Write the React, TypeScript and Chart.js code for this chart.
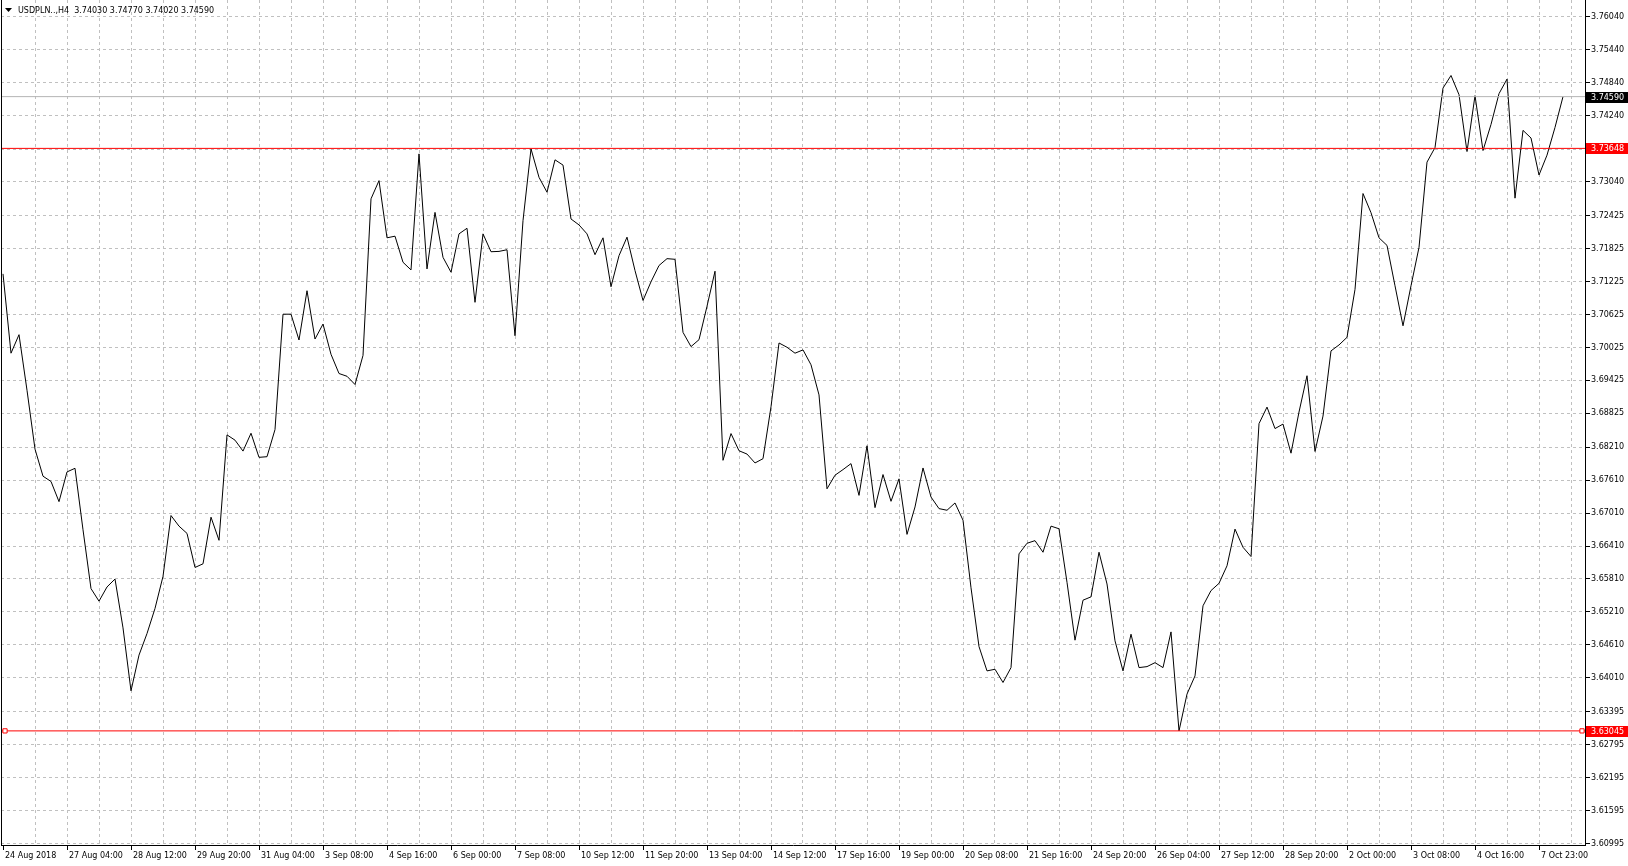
import React, { useEffect, useRef } from 'react';
import { Chart, registerables } from 'chart.js';

Chart.register(...registerables);

// ---- data (H4 closes, one per bar) ----
const closes: number[] = [
  3.71364, 3.69920, 3.70257, 3.69245, 3.68174, 3.67681, 3.67585, 3.67218, 3.67759, 3.67825,
  3.66706, 3.65635, 3.65406, 3.65665, 3.65809, 3.64920, 3.63775, 3.64425, 3.64817, 3.65274,
  3.65858, 3.66965, 3.66772, 3.66640, 3.66020, 3.66086, 3.66935, 3.66514, 3.68433, 3.68337,
  3.68138, 3.68463, 3.68024, 3.68036, 3.68530, 3.70630, 3.70630, 3.70160, 3.71057, 3.70178,
  3.70450, 3.69900, 3.69550, 3.69500, 3.69350, 3.69880, 3.72730, 3.73061, 3.72020, 3.72050,
  3.71575, 3.71436, 3.73548, 3.71454, 3.72483, 3.71665, 3.71394, 3.72092, 3.72194, 3.70846,
  3.72092, 3.71767, 3.71773, 3.71803, 3.70238, 3.72333, 3.73639, 3.73121, 3.72850, 3.73440,
  3.73344, 3.72363, 3.72255, 3.72092, 3.71713, 3.72020, 3.71130, 3.71695, 3.72032, 3.71424,
  3.70880, 3.71220, 3.71516, 3.71641, 3.71629, 3.70299, 3.70040, 3.70166, 3.70774, 3.71412,
  3.67970, 3.68457, 3.68144, 3.68084, 3.67922, 3.68000, 3.68945, 3.70106, 3.70028, 3.69920,
  3.69980, 3.69709, 3.69161, 3.67452, 3.67699, 3.67801, 3.67910, 3.67332, 3.68235, 3.67109,
  3.67711, 3.67224, 3.67633, 3.66622, 3.67121, 3.67831, 3.67302, 3.67091, 3.67061, 3.67194,
  3.66880, 3.65650, 3.64580, 3.64137, 3.64167, 3.63926, 3.64197, 3.66267, 3.66460, 3.66508,
  3.66297, 3.66772, 3.66724, 3.65749, 3.64696, 3.65424, 3.65485, 3.66297, 3.65719, 3.64684,
  3.64137, 3.64805, 3.64197, 3.64215, 3.64287, 3.64197, 3.64847, 3.63045, 3.63715, 3.64046,
  3.65322, 3.65599, 3.65731, 3.66050, 3.66718, 3.66387, 3.66219, 3.68638, 3.68939, 3.68548,
  3.68630, 3.68100, 3.68849, 3.69510, 3.68132, 3.68776, 3.69962, 3.70070, 3.70209, 3.71081,
  3.72826, 3.72477, 3.72020, 3.71882, 3.71147, 3.70419, 3.71147, 3.71846, 3.73398, 3.73663,
  3.74746, 3.74975, 3.74626, 3.73591, 3.74608, 3.73609, 3.74084, 3.74644, 3.74909, 3.72742,
  3.73976, 3.73837, 3.73163, 3.73525, 3.74030, 3.74590,
];

// one date label every 8 bars
const dateLabels: string[] = [
  '24 Aug 2018', '27 Aug 04:00', '28 Aug 12:00', '29 Aug 20:00', '31 Aug 04:00',
  '3 Sep 08:00', '4 Sep 16:00', '6 Sep 00:00', '7 Sep 08:00', '10 Sep 12:00',
  '11 Sep 20:00', '13 Sep 04:00', '14 Sep 12:00', '17 Sep 16:00', '19 Sep 00:00',
  '20 Sep 08:00', '21 Sep 16:00', '24 Sep 20:00', '26 Sep 04:00', '27 Sep 12:00',
  '28 Sep 20:00', '2 Oct 00:00', '3 Oct 08:00', '4 Oct 16:00', '7 Oct 23:00',
];

const priceTickLabels: string[] = [
  '3.76040', '3.75440', '3.74840', '3.74240', '3.73635', '3.73040', '3.72425', '3.71825',
  '3.71225', '3.70625', '3.70025', '3.69425', '3.68825', '3.68210', '3.67610', '3.67010',
  '3.66410', '3.65810', '3.65210', '3.64610', '3.64010', '3.63395', '3.62795', '3.62195',
  '3.61595', '3.60995',
];

const symbolTitle = 'USDPLN..,H4';
const lastBarOHLC: string[] = ['3.74030', '3.74770', '3.74020', '3.74590'];
const resistanceLevel = 3.73648;
const supportLevel = 3.63045;
const bidPrice = 3.7459;

const W = 1628;
const H = 866;
const FONT_FAMILY = "'DejaVu Sans', 'Liberation Sans', sans-serif";
const GRID = '#c0c0c0';

export default function App() {
  const ref = useRef<HTMLCanvasElement | null>(null);

  useEffect(() => {
    const canvas = ref.current;
    if (!canvas) return;

    const xMin = -0.25;
    const xMax = 197.75;
    const yMin = 3.60968;
    const yMax = 3.76349;

    const gridTicks: number[] = [];
    for (let v = 0; v <= 196; v += 4) gridTicks.push(v);

    const decor = {
      id: 'mtDecor',
      afterDraw(chart: any) {
        const ctx = chart.ctx as CanvasRenderingContext2D;
        const area = chart.chartArea;
        const yScale = chart.scales.y;
        ctx.save();
        // left frame line
        ctx.fillStyle = '#000';
        ctx.fillRect(area.left, 0, 1, area.bottom + 1);
        // title
        ctx.beginPath();
        ctx.moveTo(5, 8);
        ctx.lineTo(12, 8);
        ctx.lineTo(8.5, 12);
        ctx.closePath();
        ctx.fill();
        ctx.font = `8px ${FONT_FAMILY}`;
        ctx.textBaseline = 'middle';
        ctx.textAlign = 'left';
        ctx.fillStyle = '#000';
        ctx.fillText(`${symbolTitle}  ${lastBarOHLC.join(' ')}`, 18, 10.5);
        // price tags on the axis
        const tags = [
          { v: bidPrice, bg: '#000000', fg: '#ffffff' },
          { v: resistanceLevel, bg: '#ff0000', fg: '#ffffff' },
          { v: supportLevel, bg: '#ff0000', fg: '#ffffff' },
        ];
        for (const t of tags) {
          const y = yScale.getPixelForValue(t.v);
          ctx.fillStyle = t.bg;
          ctx.fillRect(area.right + 1, Math.round(y) - 5, W - area.right - 1, 11);
          ctx.fillStyle = t.fg;
          ctx.fillText(t.v.toFixed(5), area.right + 6, Math.round(y) + 0.5);
        }
        ctx.restore();
      },
    };

    const chart = new Chart(canvas, {
      type: 'line',
      data: {
        datasets: [
          {
            label: 'support',
            data: [
              { x: xMin, y: supportLevel },
              { x: 0.25, y: supportLevel },
              { x: 197.375, y: supportLevel },
              { x: xMax, y: supportLevel },
            ],
            borderColor: '#ff0000',
            borderWidth: 1,
            pointRadius: [0, 3, 3, 0],
            pointStyle: 'rect',
            pointBackgroundColor: '#ffffff',
            pointBorderColor: '#ff0000',
            pointBorderWidth: 1,
            order: 0,
          } as any,
          {
            label: 'resistance',
            data: [
              { x: xMin, y: resistanceLevel },
              { x: xMax, y: resistanceLevel },
            ],
            borderColor: '#ff0000',
            borderWidth: 1,
            pointRadius: 0,
            order: 1,
          },
          {
            label: 'bid',
            data: [
              { x: xMin, y: bidPrice },
              { x: xMax, y: bidPrice },
            ],
            borderColor: '#b4b4b4',
            borderWidth: 1,
            pointRadius: 0,
            order: 5,
          },
          {
            label: 'USDPLN',
            data: closes.map((v, i) => ({ x: i, y: v })),
            borderColor: '#000000',
            borderWidth: 1,
            pointRadius: 0,
            tension: 0,
            order: 10,
          },
        ],
      },
      options: {
        animation: false,
        responsive: false,
        devicePixelRatio: 1,
        events: [],
        layout: { padding: { left: 1, top: 0, right: 0, bottom: 0 } },
        plugins: {
          legend: { display: false },
          tooltip: { enabled: false },
          title: { display: false },
        },
        scales: {
          x: {
            type: 'linear',
            position: 'bottom',
            min: xMin,
            max: xMax,
            afterBuildTicks: (axis: any) => {
              axis.ticks = gridTicks.map((v) => ({ value: v }));
            },
            afterFit: (axis: any) => {
              axis.height = H - 845;
              axis.paddingLeft = 0;
              axis.paddingRight = 0;
            },
            grid: {
              color: (c: any) => (c.tick && c.tick.value === 0 ? 'rgba(0,0,0,0)' : GRID),
              tickColor: (c: any) => (c.tick && c.tick.value % 8 === 0 ? '#000000' : 'rgba(0,0,0,0)'),
              tickLength: 5,
              tickBorderDash: [],
              lineWidth: 1,
            } as any,
            border: { color: '#000000', width: 1, dash: [3, 3] },
            ticks: {
              autoSkip: false,
              maxRotation: 0,
              minRotation: 0,
              align: 'start',
              labelOffset: 2,
              padding: 1,
              color: '#000000',
              font: { family: FONT_FAMILY, size: 8 },
              callback: (value: any) => {
                const v = Number(value);
                return v % 8 === 0 ? dateLabels[v / 8] ?? '' : '';
              },
            },
          },
          y: {
            type: 'linear',
            position: 'right',
            min: yMin,
            max: yMax,
            afterBuildTicks: (axis: any) => {
              axis.ticks = priceTickLabels
                .map((s) => ({ value: parseFloat(s) }))
                .sort((a, b) => a.value - b.value);
            },
            afterFit: (axis: any) => {
              axis.width = W - 1585;
              axis.paddingTop = 0;
              axis.paddingBottom = 0;
            },
            grid: {
              color: GRID,
              tickColor: '#000000',
              tickLength: 5,
              tickBorderDash: [],
              lineWidth: 1,
            } as any,
            border: { color: '#000000', width: 1, dash: [3, 3] },
            ticks: {
              padding: 1,
              color: '#000000',
              font: { family: FONT_FAMILY, size: 8 },
              callback: (value: any) => {
                const v = Number(value);
                const found = priceTickLabels.find((s) => Math.abs(parseFloat(s) - v) < 1e-7);
                return found ?? '';
              },
            },
          },
        },
      },
      plugins: [decor],
    });

    return () => {
      chart.destroy();
    };
  }, []);

  return (
    <div style={{ position: 'fixed', left: 0, top: 0, width: W, height: H, background: '#ffffff' }}>
      <canvas ref={ref} width={W} height={H} style={{ display: 'block', width: W, height: H }} />
    </div>
  );
}
